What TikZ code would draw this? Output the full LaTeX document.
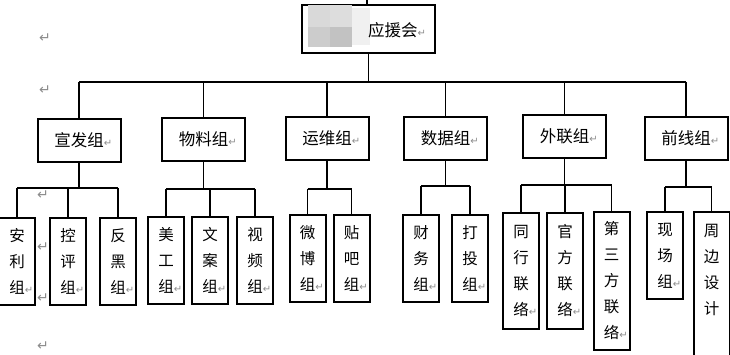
\documentclass[tikz,border=0pt]{standalone}
\usepackage{fontspec}
\newfontfamily\cjk{Noto Sans CJK SC}
\newfontfamily\dv{DejaVu Sans}
\definecolor{retgray}{RGB}{140,140,140}
\newcommand\rmk{\textcolor{retgray}{\dv\fontsize{10}{10}\selectfont ↵}}
\tikzset{
  conn/.style={line width=1.8pt},
  lvtwo/.style={draw, line width=2pt, minimum width=83pt, minimum height=43pt, inner sep=0pt, anchor=north, font=\cjk\fontsize{16.5}{18}\selectfont},
  kid/.style={draw, line width=2pt, minimum width=36pt, minimum height=87pt, inner sep=0pt, anchor=north, align=center, font=\cjk\fontsize{15.5}{26}\selectfont},
  kidtext/.style={inner sep=0pt, align=center, font=\cjk\fontsize{15.5}{26}\selectfont},
  retmark/.style={inner sep=0pt, font=\dv\fontsize{14}{14}\selectfont, text=retgray}
}
\begin{document}
\begin{tikzpicture}[x=1pt,y=-1pt]
\useasboundingbox (0,0) rectangle (730,355);
% top node
\node[draw, line width=2pt, minimum width=133pt, minimum height=48pt, anchor=north west, inner sep=0pt] (top) at (301,4.5) {};
\fill[gray!30] (308,5.5) rectangle (330,27);
\fill[gray!27] (330,5.5) rectangle (352,27);
\fill[gray!40] (308,27) rectangle (330,47);
\fill[gray!48] (330,27) rectangle (352,47);
\fill[gray!12] (352,8) rectangle (370,45);
\node[inner sep=0pt, font=\cjk\fontsize{16.5}{18}\selectfont, anchor=west] (toptext) at (368,30) {应援会\rlap{\rmk}};
\coordinate (stub) at (367,0);
\draw[conn] (stub) -- (stub |- top.north);
% left paragraph marks
\node[retmark] (m1) at (45,38) {↵};
\node[retmark] (m2) at (45,90) {↵};
\node[retmark] (m3) at (43,195) {↵};
\node[retmark] (m4) at (43,247) {↵};
\node[retmark] (m5) at (43,298) {↵};
\node[retmark] (m6) at (43,346) {↵};
% level 2
\node[lvtwo] (xf) at (79,118) {宣发组\rlap{\rmk}};
\node[lvtwo] (wl) at (203.5,117) {物料组\rlap{\rmk}};
\node[lvtwo] (yw) at (327,116) {运维组\rlap{\rmk}};
\node[lvtwo] (sj) at (445.5,116) {数据组\rlap{\rmk}};
\node[lvtwo] (wlz) at (564.5,114) {外联组\rlap{\rmk}};
\node[lvtwo] (qx) at (686,116) {前线组\rlap{\rmk}};
\coordinate (bus) at (0,82);
\draw[conn] (top.south) -- (top.south |- bus);
\draw[conn] (xf.north |- bus) -- (qx.north |- bus);
\foreach \n in {xf,wl,yw,sj,wlz,qx} \draw[conn] (\n.north |- bus) -- (\n.north);
% children
\node[kid] (al) at (17,217) {安\\利\\组\rlap{\rmk}};
\node[kid] (kp) at (68,217) {控\\评\\组\rlap{\rmk}};
\node[kid] (fh) at (118,217) {反\\黑\\组\rlap{\rmk}};
\node[kid] (mg) at (166,216) {美\\工\\组\rlap{\rmk}};
\node[kid] (wa) at (210,216) {文\\案\\组\rlap{\rmk}};
\node[kid] (sp) at (255,216) {视\\频\\组\rlap{\rmk}};
\node[kid] (wb) at (307.5,214) {微\\博\\组\rlap{\rmk}};
\node[kid] (tb) at (351.5,214) {贴\\吧\\组\rlap{\rmk}};
\node[kid] (cw) at (421,214) {财\\务\\组\rlap{\rmk}};
\node[kid] (dt) at (470,214) {打\\投\\组\rlap{\rmk}};
\node[kid, minimum height=116pt] (th) at (521,212) {同\\行\\联\\络\rlap{\rmk}};
\node[kid, minimum height=116pt] (gf) at (565,212) {官\\方\\联\\络\rlap{\rmk}};
\node[kid, minimum height=138pt] (ds) at (611.5,211) {第\\三\\方\\联\\络\rlap{\rmk}};
\node[kid] (xc) at (665,211) {现\\场\\组\rlap{\rmk}};
\node[kid, minimum height=152pt] (zb) at (711.5,211) {};
\node[kidtext] (zbt) at (711.5,270) {周\\边\\设\\计};
% sub-buses
\coordinate (bxf) at (0,188);
\coordinate (bwl) at (0,189);
\coordinate (byw) at (0,189);
\coordinate (bsj) at (0,186);
\coordinate (bwlz) at (0,185);
\coordinate (bqx) at (0,187);
\draw[conn] (xf.south) -- (xf.south |- bxf);
\draw[conn] (al.north |- bxf) -- (fh.north |- bxf);
\foreach \n in {al,kp,fh} \draw[conn] (\n.north |- bxf) -- (\n.north);
\draw[conn] (wl.south) -- (wl.south |- bwl);
\draw[conn] (mg.north |- bwl) -- (sp.north |- bwl);
\foreach \n in {mg,wa,sp} \draw[conn] (\n.north |- bwl) -- (\n.north);
\draw[conn] (yw.south) -- (yw.south |- byw);
\draw[conn] (wb.north |- byw) -- (tb.north |- byw);
\foreach \n in {wb,tb} \draw[conn] (\n.north |- byw) -- (\n.north);
\draw[conn] (sj.south) -- (sj.south |- bsj);
\draw[conn] (cw.north |- bsj) -- (dt.north |- bsj);
\foreach \n in {cw,dt} \draw[conn] (\n.north |- bsj) -- (\n.north);
\draw[conn] (wlz.south) -- (wlz.south |- bwlz);
\draw[conn] (th.north |- bwlz) -- (ds.north |- bwlz);
\foreach \n in {th,gf,ds} \draw[conn] (\n.north |- bwlz) -- (\n.north);
\draw[conn] (qx.south) -- (qx.south |- bqx);
\draw[conn] (xc.north |- bqx) -- (zb.north |- bqx);
\foreach \n in {xc,zb} \draw[conn] (\n.north |- bqx) -- (\n.north);
\end{tikzpicture}
\end{document}
